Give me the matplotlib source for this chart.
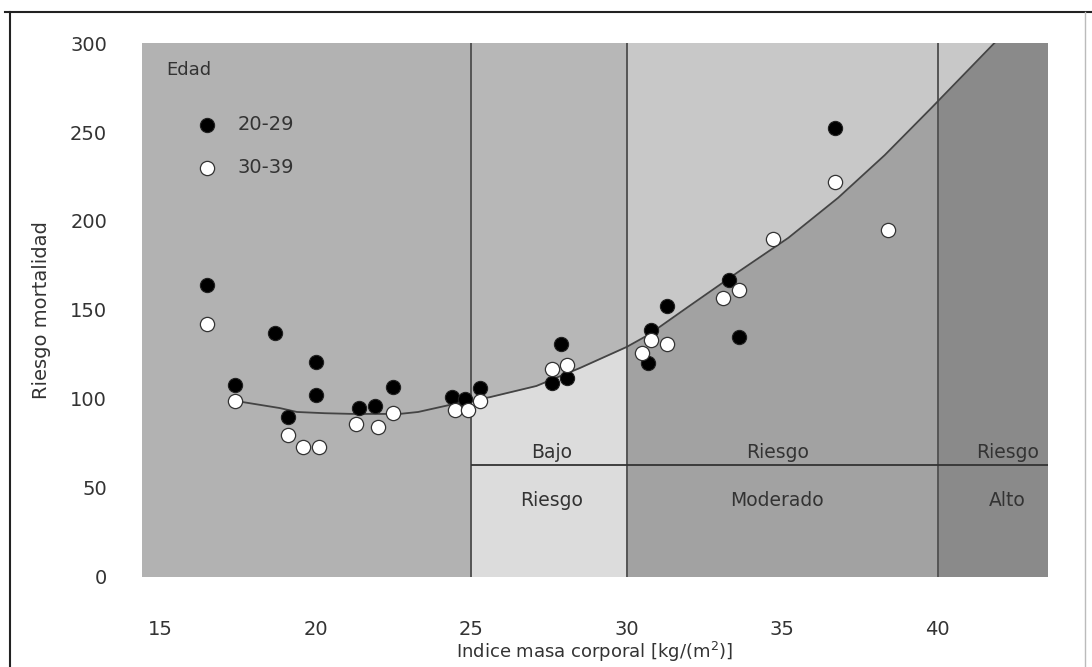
import matplotlib.pyplot as plt
import numpy as np
from matplotlib.patches import Rectangle
from matplotlib.lines import Line2D

# data
bmi_2029 = [16.5, 17.4, 18.7, 19.1, 20.0, 20.0, 21.4, 21.9, 22.5, 24.4, 24.8, 25.3,
            27.6, 27.9, 28.1, 30.7, 30.8, 31.3, 33.3, 33.6, 36.7]
risk_2029 = [164, 108, 137, 90, 121, 102, 95, 96, 107, 101, 100, 106,
             109, 131, 112, 120, 139, 152, 167, 135, 252]

bmi_3039 = [16.5, 17.4, 19.1, 19.6, 20.1, 21.3, 22.0, 22.5, 24.5, 24.9, 25.3,
            27.6, 28.1, 30.5, 30.8, 31.3, 33.1, 33.6, 34.7, 36.7, 38.4]
risk_3039 = [142, 99, 80, 73, 73, 86, 84, 92, 94, 94, 99,
             117, 119, 126, 133, 131, 157, 161, 190, 222, 195]

curve_bmi = [17.4, 18.0, 18.85, 19.4, 20.3, 21.2, 22.7, 23.3, 24.3, 25.6, 27.1, 28.5,
             30.0, 30.7, 32.0, 33.6, 35.2, 36.8, 38.3, 39.8, 41.8, 42.2]
curve_risk = [99, 97.3, 94.9, 92.7, 92, 91.6, 91.6, 92.7, 96.6, 101, 107.3, 117.4,
              129.2, 136, 152, 171.5, 190.5, 213, 237, 263.5, 299.5, 306]

cuts = [25, 30, 40]
x_ticks = [15, 20, 25, 30, 35, 40]
y_ticks = [0, 50, 100, 150, 200, 250, 300]
risk_line = 62.8
xmin, xmax = 14.42, 43.55

txt = '#333333'
plt.rcParams['font.family'] = 'DejaVu Sans'

fig = plt.figure(figsize=(10.92, 6.67), dpi=100)
ax = fig.add_axes([0.130, 0.135, 0.8297, 0.8005])

# background columns (colour below the curve)
below = ['#b2b2b2', '#dcdcdc', '#a2a2a2', '#8a8a8a']
edges = [xmin] + cuts + [xmax]
for i in range(4):
    ax.axvspan(edges[i], edges[i + 1], color=below[i], lw=0, zorder=0)

# colour above the curve, clipped per column
above = [None, '#b7b7b7', '#c8c8c8', '#c8c8c8']
for i in range(1, 4):
    poly = ax.fill_between(curve_bmi, curve_risk, 320, color=above[i], lw=0, zorder=1)
    clip = Rectangle((edges[i], 0), edges[i + 1] - edges[i], 300, transform=ax.transData)
    poly.set_clip_path(clip)

for c in cuts:
    ax.axvline(c, color='#555555', lw=1.4, zorder=2)
ax.hlines(risk_line, cuts[0], xmax, color='#333333', lw=1.3, zorder=2)

ax.plot(curve_bmi, curve_risk, color='#444444', lw=1.3, zorder=3)

ax.scatter(bmi_2029, risk_2029, s=105, c='black', edgecolors='#222222', lw=0.8,
           zorder=4, label='20-29')
ax.scatter(bmi_3039, risk_3039, s=105, c='white', edgecolors='#333333', lw=0.9,
           zorder=4, label='30-39')

ax.text(15.2, 285, 'Edad', fontsize=13, color=txt, va='center')
leg = ax.legend(loc='upper left', bbox_to_anchor=(0.035, 0.89), frameon=False,
                fontsize=14, handletextpad=0.6, labelspacing=1.2, borderpad=0.2)
for t in leg.get_texts():
    t.set_color(txt)

labels = [(27.6, 'Bajo', 'Riesgo'), (34.85, 'Riesgo', 'Moderado'), (42.25, 'Riesgo', 'Alto')]
for xc, top, bot in labels:
    ax.text(xc, 70, top, ha='center', va='center', fontsize=13.5, color=txt)
    ax.text(xc, 43, bot, ha='center', va='center', fontsize=13.5, color=txt)

ax.set_xlim(xmin, xmax)
ax.set_ylim(0, 300)
ax.set_xticks(x_ticks)
ax.set_yticks(y_ticks)
ax.tick_params(length=0, labelsize=14, labelcolor=txt)
ax.tick_params(axis='y', pad=25)
ax.tick_params(axis='x', pad=31)
for s in ax.spines.values():
    s.set_visible(False)
ax.set_xlabel('Indice masa corporal [kg/(m$^2$)]', fontsize=13, color=txt, labelpad=1)
ax.set_ylabel('Riesgo mortalidad', fontsize=14, color=txt, labelpad=14)

# frame lines of the scanned page
fig.add_artist(Line2D([0.005, 1.0], [0.982, 0.982], color='#222222', lw=1.5))
fig.add_artist(Line2D([0.009, 0.009], [0.0, 0.982], color='#222222', lw=1.5))
fig.add_artist(Line2D([0.994, 0.994], [0.0, 0.982], color='#bbbbbb', lw=1.0))

fig.savefig('out.png', dpi=100)
